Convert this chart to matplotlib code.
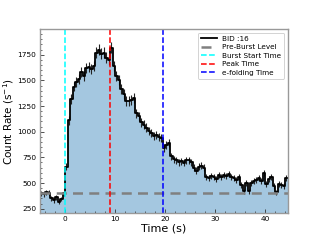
import numpy as np
import matplotlib
matplotlib.use("Agg")
import matplotlib.pyplot as plt
from matplotlib.ticker import AutoMinorLocator

bin_width = 0.5
t_start = -5.0
rates = [400, 390, 410, 405, 350, 330, 360, 320, 345, 400,
         660, 1110, 1320, 1440, 1480, 1510, 1580, 1540, 1620, 1630,
         1610, 1640, 1770, 1800, 1760, 1770, 1720, 1700, 1820, 1640,
         1540, 1500, 1420, 1370, 1300, 1300, 1310, 1330, 1180, 1150,
         1090, 1070, 1040, 1010, 990, 960, 970, 950, 940, 840,
         870, 890, 760, 730, 720, 700, 710, 695, 720, 720,
         700, 650, 620, 660, 670, 650, 560, 545, 570, 560,
         540, 580, 560, 580, 570, 590, 560, 550, 530, 560,
         480, 420, 500, 420, 500, 520, 530, 545, 520, 600,
         490, 540, 560, 470, 410, 490, 480, 470, 550]
pre_burst_level = 400
burst_start = 0.0
peak_time = 9.0
efold_time = 19.5
legend_labels = ["BID :16", "Pre-Burst Level", "Burst Start Time", "Peak Time", "e-folding Time"]

rates = np.array(rates, dtype=float)
edges = t_start + bin_width * np.arange(len(rates) + 1)
centers = edges[:-1] + bin_width / 2
errs = np.sqrt(rates * bin_width) / bin_width * 0.9

fig = plt.figure(figsize=(3.2, 2.4), dpi=100)
ax = fig.add_axes([0.125, 0.1125, 0.775, 0.7665])

y_step = np.append(rates, rates[-1])
ax.fill_between(edges, 0, y_step, step="post", color="#a4c7e0", lw=0)
ax.errorbar(centers, rates, yerr=errs, fmt="none", ecolor="#222222", elinewidth=0.8, capsize=0)
ax.step(edges, y_step, where="post", color="black", lw=1.3, label=legend_labels[0])
ax.axhline(pre_burst_level, color="gray", ls=(0, (4, 2.5)), lw=1.8, label=legend_labels[1])
ax.axvline(burst_start, color="cyan", ls="--", lw=1.1, label=legend_labels[2])
ax.axvline(peak_time, color="red", ls="--", lw=1.1, label=legend_labels[3])
ax.axvline(efold_time, color="blue", ls="--", lw=1.1, label=legend_labels[4])

ax.set_xlim(-5, 44.6)
ax.set_ylim(208, 2000)
ax.set_xticks([0, 10, 20, 30, 40])
ax.set_yticks([250, 500, 750, 1000, 1250, 1500, 1750])
ax.xaxis.set_minor_locator(AutoMinorLocator(5))
ax.yaxis.set_minor_locator(AutoMinorLocator(5))
ax.tick_params(which="both", direction="in", labelsize=5.3, color="#333333", pad=2.5)
ax.tick_params(which="major", length=3, width=0.6)
ax.tick_params(which="minor", length=1.5, width=0.5)
for s in ax.spines.values():
    s.set_color("#999999")
    s.set_linewidth(1.0)
ax.set_xlabel("Time (s)", fontsize=8, labelpad=1)
ax.set_ylabel("Count Rate (s$^{-1}$)", fontsize=7.5, labelpad=1)

handles, labels = ax.get_legend_handles_labels()
order = [labels.index(l) for l in legend_labels]
leg = ax.legend([handles[i] for i in order], [labels[i] for i in order],
                loc="upper right", fontsize=5.2, handlelength=2.2, labelspacing=0.35,
                borderpad=0.4, framealpha=1, edgecolor="#cccccc", fancybox=True)
leg.get_frame().set_linewidth(0.6)

fig.savefig("out.png", dpi=100)
